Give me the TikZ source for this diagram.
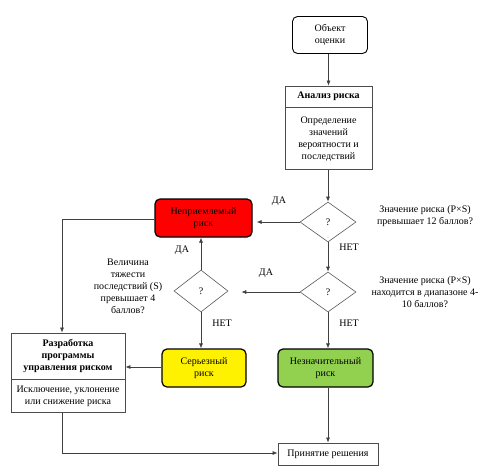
\documentclass[tikz,border=0pt]{standalone}
\usepackage{fontspec}
\setmainfont{Liberation Serif}
\newfontfamily\diagfont{Liberation Serif}
\usetikzlibrary{shapes.geometric,arrows.meta}
\begin{document}
\begin{tikzpicture}[x=1pt,y=-1pt,
  every node/.style={font=\diagfont\fontsize{10}{12}\selectfont, align=center, inner sep=0pt},
  rbox/.style={draw=black, line width=1.2pt, rounded corners=5pt, minimum height=38pt},
  pbox/.style={draw=black!70, line width=0.8pt},
  dia/.style={shape=diamond, draw=black!65, line width=0.6pt, minimum width=56pt, minimum height=40pt},
  conn/.style={draw=black!75, line width=0.7pt},
  arr/.style={conn, -{Latex[length=5pt,width=4pt]}},
  lbl/.style={font=\diagfont\fontsize{10}{12}\selectfont}
]
\useasboundingbox (0,0) rectangle (501,475);
\fill[white] (0,0) rectangle (501,475);
% top nodes
\node[rbox, line width=0.9pt, minimum width=75pt, minimum height=37pt] (obj) at (330,35) {Объект\\оценки};
\node[pbox, minimum width=87pt, minimum height=21pt, font=\diagfont\fontsize{10}{12}\selectfont\bfseries] (anh) at (328.5,96.5) {Анализ риска};
\node[pbox, minimum width=87pt, minimum height=62pt, anchor=north] (anb) at (anh.south) {Определение\\значений\\вероятности и\\последствий};
% diamonds
\node[dia] (d1) at (328,222) {?};
\node[dia] (d2) at (328,292) {?};
\node[dia, minimum width=54pt, minimum height=42pt] (d3) at (201,291) {?};
% risk boxes
\node[rbox, fill=red, minimum width=97pt] (red) at (203.5,218) {Неприемлемый\\риск};
\node[rbox, fill=yellow, minimum width=84pt] (ser) at (204,368) {Серьезный\\риск};
\node[rbox, fill={rgb,255:red,146;green,208;blue,80}, minimum width=95pt] (nez) at (325.5,368) {Незначительный\\риск};
% bottom
\node[pbox, minimum width=100pt, minimum height=22pt] (prin) at (328,454) {Принятие решения};
\node[pbox, minimum width=114pt, minimum height=46pt, font=\diagfont\fontsize{10}{12}\selectfont\bfseries] (rzh) at (68,356) {Разработка\\программы\\управления риском};
\node[pbox, minimum width=114pt, minimum height=33pt, anchor=north] (rzb) at (rzh.south) {Исключение, уклонение\\или снижение риска};
% question texts
\node[lbl] (q1) at (425,216) {Значение риска (P×S)\\превышает 12 баллов?};
\node[lbl] (q2) at (425,292) {Значение риска (P×S)\\находится в диапазоне 4-\\10 баллов?};
\node[lbl] (q3) at (128,286) {Величина\\тяжести\\последствий (S)\\превышает 4\\баллов?};
% labels
\node[lbl] (l1) at (279,201) {ДА};
\node[lbl] (l2) at (349,247) {НЕТ};
\node[lbl] (l3) at (266,273) {ДА};
\node[lbl] (l4) at (182,250) {ДА};
\node[lbl] (l5) at (222,323) {НЕТ};
\node[lbl] (l6) at (349,323) {НЕТ};
% connectors
\coordinate (c1) at (62,219);
\coordinate (c2) at (62,453);
\draw[arr] (obj.south -| anh.north) -- (anh.north);
\draw[arr] (anb.south -| d1.north) -- (d1.north);
\draw[arr] (d1.west) -- ([xshift=4pt]red.east |- d1.west);
\draw[arr] (d1.south) -- (d2.north);
\draw[arr] (d2.west) -- ([xshift=13pt]d3.east |- d2.west);
\draw[arr] (d3.north) -- (d3.north |- red.south);
\draw[arr] (d3.south) -- (d3.south |- ser.north);
\draw[arr] (d2.south) -- (d2.south |- nez.north);
\draw[arr] (nez.south -| prin.north) -- (prin.north);
\draw[conn] (red.west |- c1) -- (c1);
\draw[arr] (c1) -- (c1 |- rzh.north);
\draw[arr] (ser.west |- 0,367) -- (rzh.east |- 0,367);
\draw[conn] (rzb.south -| c2) -- (c2);
\draw[arr] (c2) -- (prin.west |- c2);
\end{tikzpicture}
\end{document}
